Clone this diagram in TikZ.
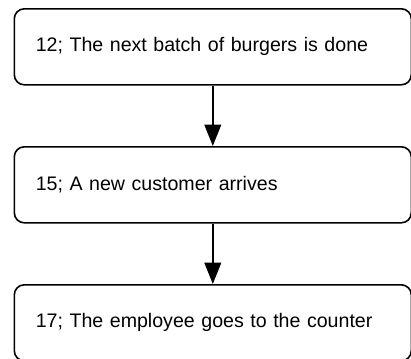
\documentclass[tikz,border=0pt]{standalone}
\usepackage{fontspec}
\setmainfont{Liberation Sans}
\usetikzlibrary{arrows.meta}

\begin{document}
\begin{tikzpicture}[x=0.75pt,y=-0.75pt,
        event/.style={draw,line width=1.2pt,rounded corners=7.5pt,anchor=north west,
            minimum width=297.75pt,minimum height=57pt,text width=265.5pt,
            inner xsep=16pt,align=left,font=\fontsize{14.7pt}{17pt}\selectfont},
        flow/.style={line width=1.2pt,-{Triangle[length=16pt,width=12.5pt]}}]
        \useasboundingbox (0,0) rectangle (411,358);
        \node[event] (batch) at (13.5,8) {12; The next batch of burgers is done};
        \node[event] (customer) at (13.5,146) {15; A new customer arrives};
        \node[event] (counter) at (13.5,284) {17; The employee goes to the counter};
        \draw[flow] (batch) -- (customer);
        \draw[flow] (customer) -- (counter);
    \end{tikzpicture}
\end{document}
